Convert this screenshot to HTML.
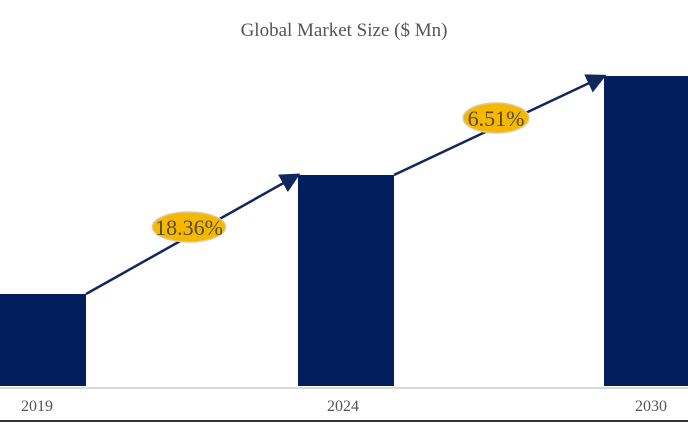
<!DOCTYPE html>
<html><head><meta charset="utf-8"><style>
body{margin:0;background:#fff;}
svg{display:block;font-family:"Liberation Serif",serif;}
</style></head><body>
<svg id="c" width="688" height="424">
<defs><marker id="ah" markerWidth="8" markerHeight="8" refX="6" refY="4" orient="auto"><path d="M0,0 L8,4 L0,8 z" fill="#12275e"/></marker></defs>
<text x="344" y="36" text-anchor="middle" font-size="19" fill="#555">Global Market Size ($ Mn)</text>
<line x1="0" y1="388" x2="688" y2="388" stroke="#d9d9d9" stroke-width="2"/>
<line x1="0" y1="421" x2="688" y2="421" stroke="#333" stroke-width="2"/>
<g id="bars"></g><g id="arrows"></g>
</svg>
<script>
const categories=["2019","2024","2030"];
const values=[92,211,310];
const cagrLabels=["18.36%","6.51%"];
const base=386, scale=1;
const barLeft=[-10,298,604], barW=[96,96,96], labelX=[37,343,651];
const y=v=>base-v*scale;
const ns="http://www.w3.org/2000/svg";
const bars=document.getElementById('bars'), arr=document.getElementById('arrows');
categories.forEach((c,i)=>{
 const r=document.createElementNS(ns,'rect');
 r.setAttribute('x',barLeft[i]);r.setAttribute('width',barW[i]);
 r.setAttribute('y',y(values[i]));r.setAttribute('height',base-y(values[i]));
 r.setAttribute('fill','#021e5c');
 
 
 bars.appendChild(r);
 const t=document.createElementNS(ns,'text');
 t.setAttribute('x',labelX[i]);t.setAttribute('y',411);t.setAttribute('text-anchor','middle');
 t.setAttribute('font-size','16');t.setAttribute('fill','#555');t.textContent=c;
 
 
 bars.appendChild(t);
});
for(let i=0;i<categories.length-1;i++){
 const x1=barLeft[i]+barW[i], y1=y(values[i]), x2=barLeft[i+1]-2, y2=y(values[i+1])+1;
 const l=document.createElementNS(ns,'line');
 l.setAttribute('x1',x1);l.setAttribute('y1',y1);l.setAttribute('x2',x2);l.setAttribute('y2',y2);
 l.setAttribute('stroke','#12275e');l.setAttribute('stroke-width','2.5');l.setAttribute('marker-end','url(#ah)');
 
 
 arr.appendChild(l);
 const cx=(x1+x2)/2-2, cy=(y1+y2)/2-8;
 const w=cagrLabels[i].length*7.5+28;
 const e=document.createElementNS(ns,'ellipse');
 e.setAttribute('cx',cx);e.setAttribute('cy',cy);e.setAttribute('rx',w/2);e.setAttribute('ry',15);
 e.setAttribute('fill','#f4b800');e.setAttribute('stroke','#e0c890');e.setAttribute('stroke-width','1.5');
 
 
 arr.appendChild(e);
 const t=document.createElementNS(ns,'text');
 t.setAttribute('x',cx);t.setAttribute('y',cy+8);t.setAttribute('text-anchor','middle');
 t.setAttribute('font-size','22');t.setAttribute('fill','#5a4a2a');t.textContent=cagrLabels[i];
 
 
 arr.appendChild(t);
}
</script>
</body></html>
